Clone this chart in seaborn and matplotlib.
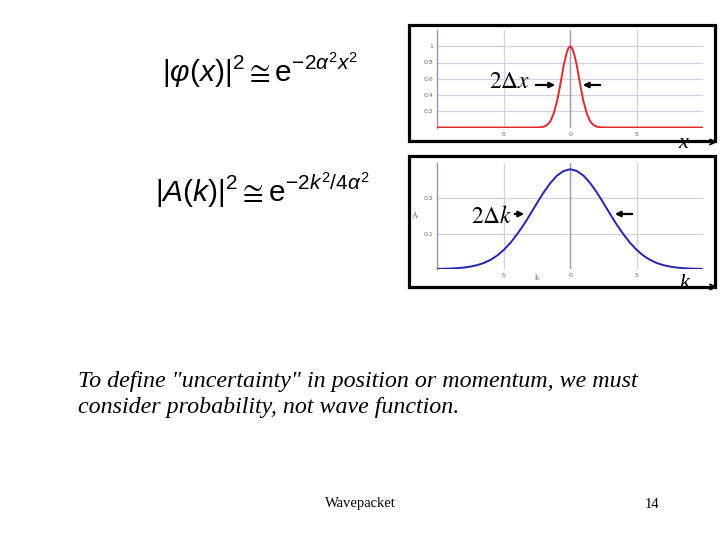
import matplotlib
matplotlib.use("Agg")
import matplotlib.pyplot as plt
import seaborn as sns
import pandas as pd
from matplotlib.patches import Rectangle, FancyArrowPatch

# ---- data ----
x_pos = [-10, -3, -2.5, -2.25, -2, -1.75, -1.5, -1.25, -1, -0.875, -0.75, -0.625, -0.5,
         -0.375, -0.25, -0.125, 0, 0.125, 0.25, 0.375, 0.5, 0.625, 0.75, 0.875, 1,
         1.25, 1.5, 1.75, 2, 2.25, 2.5, 3, 10]
phi_sq = [0, 0, 0.001, 0.003, 0.01, 0.03, 0.075, 0.17, 0.32, 0.42, 0.53, 0.64, 0.76,
          0.85, 0.93, 0.98, 1.0, 0.98, 0.93, 0.85, 0.76, 0.64, 0.53, 0.42, 0.32,
          0.17, 0.075, 0.03, 0.01, 0.003, 0.001, 0, 0]

k_pos = [-10, -9.5, -9, -8.5, -8, -7.5, -7, -6.5, -6, -5.5, -5, -4.5, -4, -3.5, -3,
         -2.5, -2, -1.5, -1, -0.5, 0, 0.5, 1, 1.5, 2, 2.5, 3, 3.5, 4, 4.5, 5, 5.5,
         6, 6.5, 7, 7.5, 8, 8.5, 9, 9.5, 10]
a_sq = [0.0004, 0.0007, 0.0013, 0.0024, 0.0041, 0.0069, 0.011, 0.017, 0.026, 0.038,
        0.054, 0.074, 0.098, 0.125, 0.155, 0.186, 0.216, 0.242, 0.263, 0.276, 0.281,
        0.276, 0.263, 0.242, 0.216, 0.186, 0.155, 0.125, 0.098, 0.074, 0.054, 0.038,
        0.026, 0.017, 0.011, 0.0069, 0.0041, 0.0024, 0.0013, 0.0007, 0.0004]

top_yticks = [0.2, 0.4, 0.6, 0.8, 1.0]
top_yticklabels = ["0.2", "0.4", "0.6", "0.8", "1"]
bot_yticks = [0.1, 0.2]
bot_yticklabels = ["0.1", "0.2"]
xticks = [-5, 0, 5]
xticklabels = ["-5", "0", "5"]

sns.set_theme(style="white")
plt.rcParams["axes.unicode_minus"] = False
plt.rcParams["text.color"] = "black"
plt.rcParams["mathtext.fontset"] = "custom"
plt.rcParams["mathtext.rm"] = "Liberation Sans"
plt.rcParams["mathtext.it"] = "Liberation Sans:italic"
plt.rcParams["mathtext.bf"] = "Liberation Sans:bold"

W, H = 720, 540
fig = plt.figure(figsize=(7.2, 5.4), dpi=100)
fig.patch.set_facecolor("white")


def fx(x):
    return x / W


def fy(y):
    return 1 - y / H


GRID = "#d6cede"
AXC = "#a58cb3"
ZERO = "#a898b8"
TICKC = "#6a6a6a"


def style_axes(ax, ylim, yticks, yticklabels):
    ax.set_xlim(-10, 10)
    ax.set_ylim(*ylim)
    ax.set_facecolor("white")
    for s in ["top", "right", "bottom"]:
        ax.spines[s].set_visible(False)
    ax.spines["left"].set_color(AXC)
    ax.spines["left"].set_linewidth(1.0)
    ax.set_xticks(xticks)
    ax.set_xticklabels(xticklabels)
    ax.set_yticks(yticks)
    ax.set_yticklabels(yticklabels)
    ax.tick_params(length=0, labelsize=4.5, labelcolor=TICKC, pad=3)
    ax.grid(True, color=GRID, linewidth=0.9)
    ax.set_axisbelow(True)
    ax.axvline(0, color=ZERO, linewidth=1.0, zorder=1)


# top plot
ax1 = fig.add_axes([fx(437.5), fy(127.5), (703 - 437.5) / W, (127.5 - 30) / H])
df1 = pd.DataFrame({"x": x_pos, "p": phi_sq})
sns.lineplot(data=df1, x="x", y="p", ax=ax1, color="#e02a2a", linewidth=1.4, zorder=3)
style_axes(ax1, (0, 1.2), top_yticks, top_yticklabels)
ax1.set_xlabel("")
ax1.set_ylabel("")

# bottom plot
ax2 = fig.add_axes([fx(437.5), fy(269), (703 - 437.5) / W, (269 - 162.5) / H])
df2 = pd.DataFrame({"k": k_pos, "a": a_sq})
sns.lineplot(data=df2, x="k", y="a", ax=ax2, color="#2424b4", linewidth=1.4, zorder=3)
style_axes(ax2, (0, 0.3), bot_yticks, bot_yticklabels)
ax2.set_ylabel("A", rotation=0, fontsize=6, color=TICKC, family="Liberation Serif",
               labelpad=6, va="center")
ax2.set_xlabel("k", fontsize=6, color=TICKC, family="Liberation Serif")
ax2.xaxis.set_label_coords(0.375, -0.05)

# frames
for (l, t, r, b) in [(408.5, 25, 715, 141), (408.5, 156, 715, 287)]:
    fig.add_artist(Rectangle((fx(l), fy(b)), (r - l) / W, (b - t) / H,
                             transform=fig.transFigure, fill=False,
                             edgecolor="black", linewidth=2.3))

# width annotations
serif = "Liberation Serif"
fig.text(fx(489), fy(81), r"$2\Delta x$", fontsize=17, math_fontfamily="stix",
         va="center", ha="left")
fig.text(fx(471), fy(216), r"$2\Delta k$", fontsize=17, math_fontfamily="stix",
         va="center", ha="left")


def arrow(x0, y0, x1, y1, style="-|>", ms=8, lw=1.6):
    fig.add_artist(FancyArrowPatch((fx(x0), fy(y0)), (fx(x1), fy(y1)),
                                   transform=fig.transFigure, arrowstyle=style,
                                   mutation_scale=ms, linewidth=lw, color="black"))


arrow(533, 85, 558, 85)
arrow(603, 85, 580, 85)
arrow(512, 214, 527, 214)
arrow(635, 214, 612, 214)

# axis name arrows at the frames' lower right
fig.text(fx(678), fy(144), "x", fontsize=16, family=serif, style="italic", va="center", ha="left")
arrow(691, 142, 720, 142, style="->", ms=9, lw=1.4)
fig.text(fx(679), fy(284), "k", fontsize=16, family=serif, style="italic", va="center", ha="left")
arrow(691, 287, 720, 287, style="->", ms=9, lw=1.4)

# formulas
fig.text(fx(162), fy(70), r"$\left|\varphi(x)\right|^2 \cong \mathrm{e}^{-2\alpha^2 x^2}$",
         fontsize=21.5, va="center", ha="left")
fig.text(fx(155), fy(190), r"$\left|A(k)\right|^2 \cong \mathrm{e}^{-2k^2/4\alpha^2}$",
         fontsize=21.5, va="center", ha="left")

# slide text
fig.text(fx(78), fy(387), 'To define "uncertainty" in position or momentum, we must',
         fontsize=17.3, family=serif, style="italic", va="baseline", ha="left")
fig.text(fx(78), fy(413), "consider probability, not wave function.",
         fontsize=17.3, family=serif, style="italic", va="baseline", ha="left")
fig.text(fx(360), fy(504), "Wavepacket", fontsize=10.5, family=serif, va="center", ha="center")
fig.text(fx(652), fy(504), "14", fontsize=10.5, family=serif, va="center", ha="center")

fig.savefig("out.png", dpi=100, facecolor="white")
